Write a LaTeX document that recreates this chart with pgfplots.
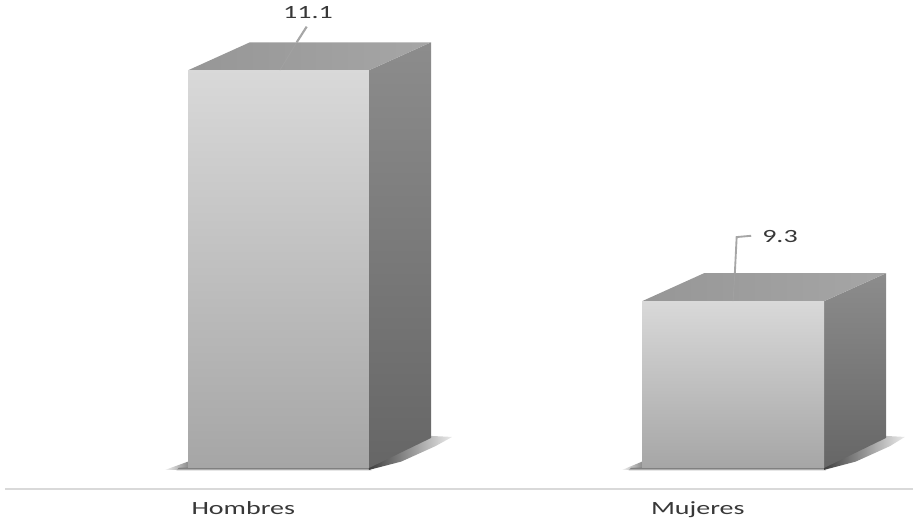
\documentclass[border=0pt]{standalone}
\usepackage{fontspec}
\setmainfont[FakeStretch=1.5]{Carlito}
\usepackage{pgfplots}
\pgfplotsset{compat=1.18}
\definecolor{txt}{HTML}{383838}
\definecolor{leader}{HTML}{A6A6A6}
\definecolor{axisc}{HTML}{D9D9D9}
\tikzset{
	front/.style={draw=none,top color=#1,bottom color=black!35},
	side/.style={draw=none,top color=black!45,bottom color=black!60},
	topf/.style={draw=none,left color=black!41,right color=black!35},
	shadowr/.style={draw=none,left color=black!75,right color=black!8},
	shadowl/.style={draw=none,left color=black!5,right color=black!45},
	shadowb/.style={draw=none,top color=black!50,bottom color=black!5},
}
\begin{document}
\begin{tikzpicture}
\path[use as bounding box] (0,0) rectangle (684.75pt,388.5pt);
\begin{axis}[
	at={(3.75pt,21.75pt)},
	anchor=south west,
	scale only axis,
	width=681pt,
	height=366.75pt,
	xmin=-0.6018, xmax=1.3960,
	ymin=7.8363, ymax=11.6477,
	axis x line=bottom,
	axis y line=none,
	axis line style={draw=axisc,line width=1pt,-},
	xtick={-0.0775,0.9225},
	xticklabels={Hombres,Mujeres},
	major tick length=0pt,
	xticklabel style={font=\fontsize{14}{16}\selectfont,text=txt,yshift=-6pt,text depth=0pt},
	clip=false,
	no markers,
]
% shadows
\addplot[shadowl] coordinates {(-0.2497,7.985) (-0.199,8.05) (-0.199,7.985)} --cycle;
\addplot[shadowb] coordinates {(-0.22,8) (0.199,8) (0.205,7.98) (-0.225,7.98)} --cycle;
\addplot[shadowr] coordinates {(0.199,8.02) (0.3355,8.25) (0.382,8.242) (0.345,8.17) (0.27,8.05) (0.199,7.985)} --cycle;
\addplot[shadowl] coordinates {(0.756,7.985) (0.80,8.05) (0.80,7.985)} --cycle;
\addplot[shadowb] coordinates {(0.775,8) (1.2002,8) (1.205,7.98) (0.77,7.98)} --cycle;
\addplot[shadowr] coordinates {(1.2002,8.02) (1.3366,8.25) (1.378,8.242) (1.345,8.17) (1.27,8.05) (1.2002,7.985)} --cycle;
% Hombres
\addplot[side] coordinates {(0.199,11.1) (0.3355,11.318) (0.3355,8.234) (0.199,8)} --cycle;
\addplot[topf] coordinates {(-0.199,11.1) (0.199,11.1) (0.3355,11.318) (-0.063,11.318)} --cycle;
\addplot[front=black!15] coordinates {(-0.199,8) (0.199,8) (0.199,11.1) (-0.199,11.1)} --cycle;
% Mujeres
\addplot[side] coordinates {(1.2002,9.3) (1.3366,9.518) (1.3366,8.234) (1.2002,8)} --cycle;
\addplot[topf] coordinates {(0.7998,9.3) (1.2002,9.3) (1.3366,9.518) (0.936,9.518)} --cycle;
\addplot[front=black!15] coordinates {(0.7998,8) (1.2002,8) (1.2002,9.3) (0.7998,9.3)} --cycle;
% leader lines
\addplot[leader,line width=0.6pt,opacity=0.5] coordinates {(0.003,11.1) (0.04,11.318)};
\addplot[leader,line width=1.6pt] coordinates {(0.04,11.318) (0.062,11.44)};
\addplot[leader,line width=0.6pt,opacity=0.5] coordinates {(1,9.3) (1.004,9.518)};
\addplot[leader,line width=1.4pt] coordinates {(1.004,9.518) (1.008,9.8) (1.04,9.81)};
\node[text=txt,font=\fontsize{14}{16}\selectfont] at (axis cs:0.065,11.546) {11.1};
\node[text=txt,font=\fontsize{14}{16}\selectfont] at (axis cs:1.1034,9.808) {9.3};
\end{axis}
\end{tikzpicture}
\end{document}
